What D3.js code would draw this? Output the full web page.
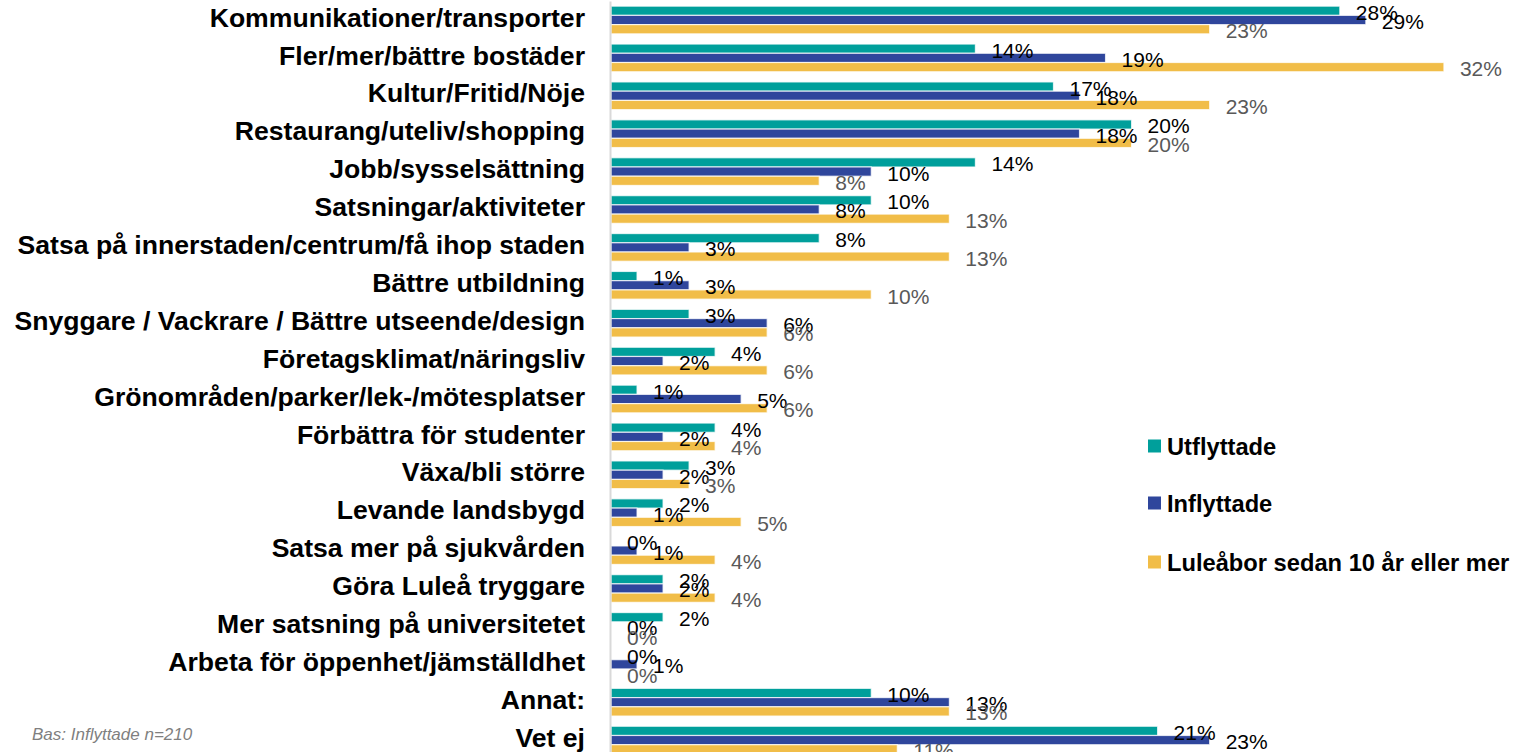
<!DOCTYPE html>
<html>
<head>
<meta charset="utf-8">
<script src="https://cdn.jsdelivr.net/npm/d3@7"></script>
<style>
  html, body { margin: 0; padding: 0; background: #fff; }
  svg { display: block; font-family: "Liberation Sans", Arial, sans-serif; }
</style>
</head>
<body>
<svg id="chart" width="1522" height="752"></svg>
<script>
const categories = [
  "Kommunikationer/transporter",
  "Fler/mer/bättre bostäder",
  "Kultur/Fritid/Nöje",
  "Restaurang/uteliv/shopping",
  "Jobb/sysselsättning",
  "Satsningar/aktiviteter",
  "Satsa på innerstaden/centrum/få ihop staden",
  "Bättre utbildning",
  "Snyggare / Vackrare / Bättre utseende/design",
  "Företagsklimat/näringsliv",
  "Grönområden/parker/lek-/mötesplatser",
  "Förbättra för studenter",
  "Växa/bli större",
  "Levande landsbygd",
  "Satsa mer på sjukvården",
  "Göra Luleå tryggare",
  "Mer satsning på universitetet",
  "Arbeta för öppenhet/jämställdhet",
  "Annat:",
  "Vet ej"
];
const seriesNames = ["Utflyttade", "Inflyttade", "Luleåbor sedan 10 år eller mer"];
const utflyttade = [28, 14, 17, 20, 14, 10, 8, 1, 3, 4, 1, 4, 3, 2, 0, 2, 2, 0, 10, 21];
const inflyttade = [29, 19, 18, 18, 10, 8, 3, 3, 6, 2, 5, 2, 2, 1, 1, 2, 0, 1, 13, 23];
const lulebor    = [23, 32, 23, 20, 8, 13, 13, 10, 6, 6, 6, 4, 3, 5, 4, 4, 0, 0, 13, 11];
const footnote = "Bas: Inflyttade n=210";

const colors = ["#009F9B", "#2F469C", "#F1BD48"];
const labelColors = ["#000000", "#000000", "#595959"];
const seriesValues = [utflyttade, inflyttade, lulebor];

const svg = d3.select("#chart");

const x = d3.scaleLinear().domain([0, 35]).range([611, 1522]);
const y = d3.scaleBand().domain(categories).range([1.05, 1.05 + 37.9 * 20])
  .paddingInner(0.27).paddingOuter(0.135);
const ySub = d3.scaleBand().domain(seriesNames).range([0, y.bandwidth()]);

const data = categories.map((c, i) => ({
  cat: c,
  vals: seriesNames.map((s, k) => ({ s, k, v: seriesValues[k][i] }))
}));

const groups = svg.append("g").selectAll("g.row").data(data).join("g")
  .attr("class", "row")
  .attr("transform", d => `translate(0,${y(d.cat)})`);

groups.selectAll("rect").data(d => d.vals).join("rect")
  .attr("x", x(0))
  .attr("y", d => ySub(d.s))
  .attr("width", d => Math.max(0, x(d.v) - x(0)))
  .attr("height", ySub.bandwidth())
  .attr("fill", d => colors[d.k])
  .attr("stroke", "#ffffff")
  .attr("stroke-opacity", 0.75)
  .attr("stroke-width", 1.2);

groups.selectAll("text").data(d => d.vals).join("text")
  .attr("x", d => x(d.v) + 16)
  .attr("y", d => ySub(d.s) + ySub.bandwidth() / 2 + 9)
  .attr("font-size", 21)
  .attr("fill", d => labelColors[d.k])
  .text(d => d.v + "%");

const axis = svg.append("g")
  .attr("transform", "translate(610,0)")
  .call(d3.axisLeft(y).tickSize(0).tickPadding(25));
axis.select(".domain").attr("stroke", "#d9d9d9").attr("stroke-width", 2);
axis.selectAll(".tick text")
  .attr("font-family", '"Liberation Sans", Arial, sans-serif')
  .attr("font-size", 26.6)
  .attr("font-weight", "bold")
  .attr("fill", "#000")
  .attr("dy", "0.25em");

const legendY = [446, 503, 562];
const legend = svg.append("g").selectAll("g").data(seriesNames).join("g")
  .attr("transform", (d, i) => `translate(1148,${legendY[i]})`);
legend.append("rect")
  .attr("x", 0).attr("y", -6.5).attr("width", 13).attr("height", 13)
  .attr("fill", (d, i) => colors[i]);
legend.append("text")
  .attr("x", 19).attr("y", 8.5)
  .attr("font-size", 23.7)
  .attr("font-weight", "bold")
  .attr("fill", "#000")
  .text(d => d);

svg.append("text")
  .attr("x", 32).attr("y", 740)
  .attr("font-size", 17)
  .attr("font-style", "italic")
  .attr("fill", "#7f7f7f")
  .text(footnote);
</script>
</body>
</html>
